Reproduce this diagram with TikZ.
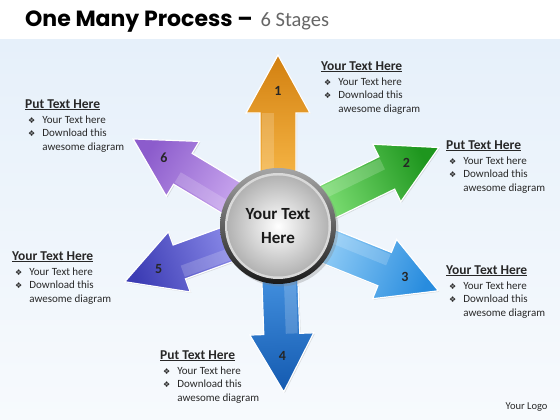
\documentclass[tikz,border=0pt]{standalone}
\usepackage{fontspec}
\setmainfont{Carlito}
\newfontfamily\titlefont{Poppins}
\newfontfamily\symfont{DejaVu Sans}
\usetikzlibrary{shadows}
\definecolor{bgtop}{RGB}{230,240,250}
\definecolor{bgbot}{RGB}{247,250,253}
\definecolor{orA}{RGB}{248,184,72}
\definecolor{orB}{RGB}{210,128,16}
\definecolor{grA}{RGB}{130,226,120}
\definecolor{grB}{RGB}{30,150,30}
\definecolor{lbA}{RGB}{150,208,248}
\definecolor{lbB}{RGB}{40,140,222}
\definecolor{bdA}{RGB}{70,148,226}
\definecolor{bdB}{RGB}{20,90,176}
\definecolor{inA}{RGB}{140,140,234}
\definecolor{inB}{RGB}{60,60,180}
\definecolor{puA}{RGB}{204,170,240}
\definecolor{puB}{RGB}{140,92,204}
\definecolor{txt}{RGB}{40,40,40}
\newcommand{\bul}{{\symfont\fontsize{8}{8}\selectfont\color{txt}❖}}
\newcommand{\blockA}[1]{%
  \begin{tabular}{@{\hspace{3pt}}l@{\hspace{7pt}}l@{}}
  \multicolumn{2}{@{}l@{}}{\fontsize{13.5}{16}\selectfont\bfseries\underline{#1}}\\[1.5pt]
  \bul & Your Text here\\
  \bul & Download this\\
       & awesome diagram
  \end{tabular}}
\tikzset{
  arrowbody/.style={draw=white, line width=1.2pt, drop shadow={opacity=0.25, shadow xshift=1pt, shadow yshift=-1pt}},
  numlabel/.style={font=\fontsize{14}{16}\selectfont\bfseries, text=black!85},
  textblock/.style={anchor=north west, inner sep=0pt, font=\fontsize{11}{13.5}\selectfont, text=txt},
}
\begin{document}
\begin{tikzpicture}[x=1pt,y=1pt]
\useasboundingbox (0,0) rectangle (560,420);
\fill[white] (0,0) rectangle (560,420);
\shade[top color=bgtop, bottom color=bgbot] (0,0) rectangle (560,380);

\node[anchor=base west, inner sep=0pt] (title) at (25,393)
  {{\titlefont\fontsize{22}{24}\selectfont\bfseries One Many Process –}\hspace{8pt}{\fontsize{20.5}{22}\selectfont\color{black!60}6 Stages}};

\coordinate (C) at (278,194);

\foreach \a/\r/\cl/\cd/\n in {90/171/orA/orB/1, 26/179/grA/grB/2, -22/173/lbA/lbB/3, -88/166/bdA/bdB/4, 200/163/inA/inB/5, 149/169/puA/puB/6}{
  \pgfmathsetmacro\sa{\a-90}
  \pgfmathsetmacro\rh{\r-58}
  \pgfmathsetmacro\rn{\r-36}
  \begin{scope}[shift={(C)}, rotate=\a]
    \path[arrowbody, top color=\cd, bottom color=\cl, shading angle=\sa]
      (40,-18) -- (\rh,-18) -- (\rh,-32) -- (\r,0) -- (\rh,32) -- (\rh,18) -- (40,18) -- cycle;
    \fill[white, opacity=0.18] (40,4) -- (\rh,4) -- (\rh,16) -- (40,16) -- cycle;
    \node[numlabel] (n\n) at (\rn,0) {\n};
  \end{scope}
}

% centre hub
\shade[top color=black!35, bottom color=black!90, drop shadow={opacity=0.3}] (C) circle (58);
\fill[black!15] (C) circle (53);
\shade[inner color=white, outer color=black!30] (C) circle (50.5);
\node[font=\fontsize{17}{24}\selectfont\bfseries, align=center, text=black!90] (hub) at (C) {Your Text\\Here};

% text blocks
\node[textblock] (b1) at (321,359.5) {\blockA{Your Text Here}};
\node[textblock] (b2) at (446,280.5) {\blockA{Put Text Here}};
\node[textblock] (b3) at (446,155.5) {\blockA{Your Text Here}};
\node[textblock] (b4) at (160,70.5) {\blockA{Put Text Here}};
\node[textblock] (b5) at (12,169.5) {\blockA{Your Text Here}};
\node[textblock] (b6) at (25,321.5) {\blockA{Put Text Here}};

\node[anchor=base east, font=\fontsize{10.5}{12}\selectfont, text=txt] (logo) at (551,10) {Your Logo};
\end{tikzpicture}
\end{document}
